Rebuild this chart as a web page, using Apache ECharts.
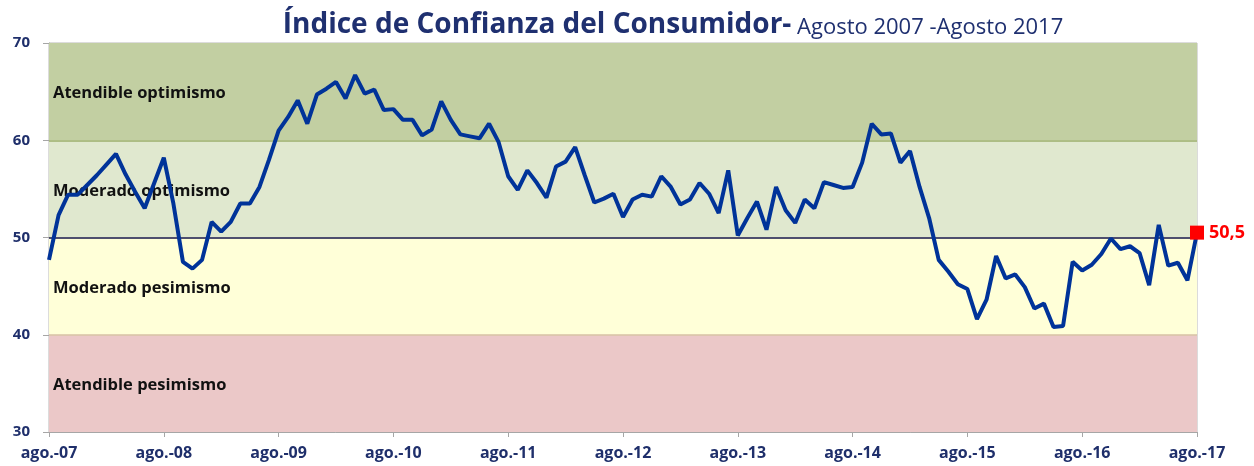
<!DOCTYPE html>
<html><head><meta charset="utf-8">
<script src="https://cdn.jsdelivr.net/npm/echarts@6/dist/echarts.min.js"></script>
<style>html,body{margin:0;padding:0;background:#fff}#c{width:1254px;height:466px}</style>
</head><body><div id="c"></div>
<script>
const yearLabels = ['07','08','09','10','11','12','13','14','15','16','17'];
const monthNames = ['ago.','sep.','oct.','nov.','dic.','ene.','feb.','mar.','abr.','may.','jun.','jul.'];
const values = [
47.7,52.3,54.4,54.4,55.4,56.4,57.5,58.6,56.5,54.7,53.0,55.6,
58.2,53.5,47.5,46.8,47.7,51.6,50.6,51.6,53.5,53.5,55.2,58.0,
61.0,62.4,64.1,61.7,64.7,65.3,66.0,64.3,66.7,64.8,65.2,63.1,
63.2,62.1,62.1,60.5,61.1,64.0,62.1,60.6,60.4,60.2,61.7,59.8,
56.3,54.9,56.9,55.6,54.1,57.3,57.8,59.3,56.4,53.6,54.0,54.5,
52.1,53.9,54.4,54.2,56.3,55.2,53.4,53.9,55.6,54.5,52.5,56.9,
50.2,52.0,53.7,50.8,55.2,52.8,51.5,53.9,53.0,55.7,55.4,55.1,
55.2,57.7,61.7,60.6,60.7,57.7,58.9,55.2,52.0,47.7,46.5,45.2,
44.7,41.6,43.6,48.1,45.8,46.2,44.9,42.7,43.2,40.8,40.9,47.5,
46.6,47.2,48.3,49.9,48.8,49.1,48.4,45.1,51.3,47.1,47.4,45.6,
50.5];
const bands = [
  {name:'Atendible optimismo', from:60, to:70, color:'#c2cfa2'},
  {name:'Moderado optimismo', from:50, to:60, color:'#e0e8cf'},
  {name:'Moderado pesimismo', from:40, to:50, color:'#ffffd8'},
  {name:'Atendible pesimismo', from:30, to:40, color:'#ebc8c8'}
];
const lastLabel = '50,5';

// categories: monthly from ago.-07 through ago.-17
const categories = [];
for (let y = 0; y < yearLabels.length; y++) {
  for (let m = 0; m < 12; m++) {
    if (y === yearLabels.length - 1 && m > 0) break;
    categories.push(monthNames[m] + '-' + yearLabels[y]);
  }
}
const navy = '#1f2f6b';
const chart = echarts.init(document.getElementById('c'));
chart.setOption({
  animation:false,
  title:{
    text:'{a|Índice de Confianza del Consumidor-}{b| Agosto 2007 -Agosto 2017}',
    left:668, textAlign:'center', top:6,
    textStyle:{rich:{
      a:{fontFamily:'Open Sans',fontWeight:'bold',fontSize:28,color:'#1f3070'},
      b:{fontFamily:'Open Sans',fontWeight:'normal',fontSize:22,color:'#1f3070',padding:[5,0,0,0]}
    }}
  },
  grid:{left:49,right:57,top:43,bottom:34,show:true,borderColor:'#b8b8b8',borderWidth:1,backgroundColor:'transparent'},
  xAxis:{
    type:'category', data:categories, boundaryGap:false,
    axisLine:{lineStyle:{color:'#a6a6a6',width:1}},
    axisTick:{interval:11,length:5,lineStyle:{color:'#a6a6a6'}},
    axisLabel:{interval:11,margin:13,fontFamily:'Open Sans',fontWeight:'bold',fontSize:16,color:navy},
    splitLine:{show:false}
  },
  yAxis:{
    type:'value', min:30, max:70, interval:10,
    axisLine:{show:true,lineStyle:{color:'#a6a6a6',width:1}},
    axisTick:{show:true,length:6,lineStyle:{color:'#a6a6a6'}},
    axisLabel:{margin:19,fontFamily:'Open Sans',fontWeight:'bold',fontSize:15,color:navy},
    splitLine:{show:false}
  },
  series:[
    {
      type:'line', data:values, showSymbol:false, symbol:'none',
      lineStyle:{color:'#003399',width:4}, z:5,
      markArea:{
        silent:true,
        data:bands.map(b=>[{yAxis:b.from,itemStyle:{color:b.color,opacity:1},
          label:{show:true,position:'insideLeft',formatter:b.name,distance:4,offset:[0,2],
            fontFamily:'Open Sans',fontWeight:'bold',fontSize:16.5,color:'#111'}},{yAxis:b.to}])
      },
      markLine:{
        silent:true, symbol:'none', label:{show:false},
        data:[
          {yAxis:60,lineStyle:{color:'#9caf6d',width:1.5,type:'solid'}},
          {yAxis:50,lineStyle:{color:'#15154a',width:1.5,type:'solid'}},
          {yAxis:40,lineStyle:{color:'#d8c4a4',width:1.5,type:'solid'}}
        ]
      }
    },
    {
      type:'scatter', z:6,
      data:[[categories[categories.length-1], values[values.length-1]]],
      symbol:'rect', symbolSize:14, itemStyle:{color:'#ff0000',opacity:1},
      label:{show:true,position:'right',distance:5,formatter:lastLabel,
        fontFamily:'Open Sans',fontWeight:'bold',fontSize:18,color:'#ff0000'}
    }
  ]
});
</script></body></html>
